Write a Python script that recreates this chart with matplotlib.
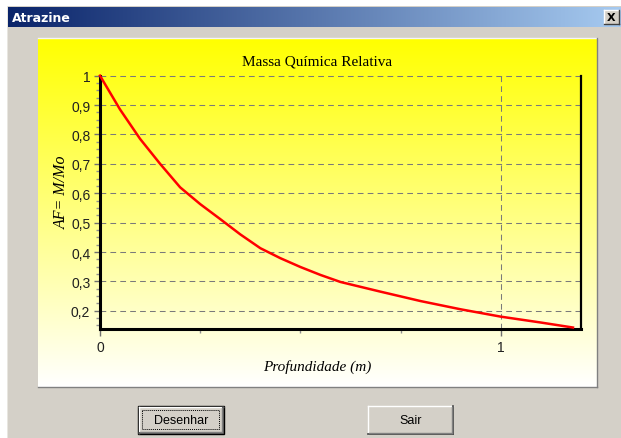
import numpy as np
import matplotlib
matplotlib.use("Agg")
import matplotlib.pyplot as plt
from matplotlib.patches import Rectangle

# ---- data ----
depth = [0, 0.05, 0.1, 0.15, 0.2, 0.25, 0.3, 0.35, 0.4, 0.45, 0.5, 0.55, 0.6, 0.7, 0.8, 0.9, 1.0, 1.1, 1.18]
af = [1.0, 0.885, 0.785, 0.700, 0.620, 0.563, 0.512, 0.460, 0.413, 0.379, 0.349, 0.322, 0.298, 0.265, 0.233, 0.205, 0.18, 0.16, 0.143]
y_ticks = [0.2, 0.3, 0.4, 0.5, 0.6, 0.7, 0.8, 0.9, 1.0]
y_tick_labels = ["0,2", "0,3", "0,4", "0,5", "0,6", "0,7", "0,8", "0,9", "1"]
x_ticks = [0, 1]
x_tick_labels = ["0", "1"]
window_title = "Atrazine"
chart_title = "Massa Química Relativa"
x_label = "Profundidade (m)"
y_label = "AF= M/Mo"
buttons = ["Desenhar", "Sair"]

W, H = 621, 439
fig = plt.figure(figsize=(W / 100, H / 100), dpi=100)
fig.patch.set_facecolor("#D4D0C8")

# background / chrome axes in pixel coords
bg = fig.add_axes([0, 0, 1, 1])
bg.set_xlim(0, W)
bg.set_ylim(H, 0)
bg.axis("off")

# white outer strip
bg.add_patch(Rectangle((0, 0), W, 7, facecolor="white", edgecolor="none"))
bg.add_patch(Rectangle((0, 0), 7, H, facecolor="white", edgecolor="none"))
bg.add_patch(Rectangle((7, 7), 1, H, facecolor="#E8E6E0", edgecolor="none"))

# title bar gradient
c1 = np.array([10, 36, 106]) / 255
c2 = np.array([166, 202, 240]) / 255
t = np.linspace(0, 1, 256)
grad = (c1[None, :] * (1 - t[:, None]) + c2[None, :] * t[:, None])[None, :, :]
bg.imshow(grad, extent=(8, W, 28, 8), aspect="auto", interpolation="bilinear", zorder=1)
bg.text(12, 18.5, window_title, color="white", fontsize=9, fontweight="bold",
        family="DejaVu Sans", va="center", ha="left", zorder=2)
# close button
bg.add_patch(Rectangle((604, 11), 15, 14, facecolor="#D4D0C8", edgecolor="none", zorder=2))
bg.plot([604, 619], [11, 11], color="white", lw=1, zorder=3)
bg.plot([604, 604], [11, 25], color="white", lw=1, zorder=3)
bg.plot([604, 619], [25, 25], color="#404040", lw=1, zorder=3)
bg.plot([619, 619], [11, 25], color="#404040", lw=1, zorder=3)
bg.text(611.5, 18, "X", fontsize=8, fontweight="bold", ha="center", va="center",
        family="DejaVu Sans", zorder=4)

# panel with yellow-to-white gradient
pl, pr, pt, pb = 38, 597, 39, 388
tv = np.linspace(0, 1, 256)
pg = np.stack([np.ones_like(tv), np.ones_like(tv), np.clip(tv * 1.0, 0, 1)], axis=1)[:, None, :]
bg.imshow(pg, extent=(pl, pr, pb, pt), aspect="auto", interpolation="bilinear", zorder=1)
bg.plot([pl, pr], [pt, pt], color="#F5F5F5", lw=1, zorder=2)
bg.plot([pr, pr], [pt, pb], color="#808080", lw=1, zorder=2)
bg.plot([pl, pr], [pb, pb], color="#808080", lw=1, zorder=2)

# chart title / axis labels (centered on panel)
cx = (pl + pr) / 2
bg.text(cx, 62, chart_title, fontsize=11, family="Liberation Serif",
        ha="center", va="center", zorder=3)
bg.text(cx, 367, x_label, fontsize=11, family="Liberation Serif", style="italic",
        ha="center", va="center", zorder=3)
bg.text(62, 192, y_label, fontsize=11.5, family="Liberation Serif", style="italic",
        ha="center", va="center", rotation=90, zorder=3)

# buttons
def button(x0, x1, y0, y1, label, default=False):
    bg.add_patch(Rectangle((x0, y0), x1 - x0, y1 - y0, facecolor="#D4D0C8",
                           edgecolor="none", zorder=2))
    if default:
        bg.add_patch(Rectangle((x0, y0), x1 - x0, y1 - y0, facecolor="none",
                               edgecolor="black", lw=1, zorder=3))
        x0, x1, y0, y1 = x0 + 1, x1 - 1, y0 + 1, y1 - 1
    bg.plot([x0, x1], [y0, y0], color="white", lw=1, zorder=3)
    bg.plot([x0, x0], [y0, y1], color="white", lw=1, zorder=3)
    bg.plot([x0, x1], [y1, y1], color="#404040", lw=1.2, zorder=3)
    bg.plot([x1, x1], [y0, y1], color="#404040", lw=1.2, zorder=3)
    bg.plot([x0 + 1, x1 - 1], [y1 - 1, y1 - 1], color="#808080", lw=1, zorder=3)
    bg.plot([x1 - 1, x1 - 1], [y0 + 1, y1 - 1], color="#808080", lw=1, zorder=3)
    if default:
        bg.add_patch(Rectangle((x0 + 3, y0 + 3), x1 - x0 - 7, y1 - y0 - 7, facecolor="none",
                               edgecolor="black", lw=0.7, linestyle=(0, (1, 1)), zorder=3))
    bg.text((x0 + x1) / 2, (y0 + y1) / 2, label, fontsize=9, family="Liberation Sans",
            ha="center", va="center", zorder=4)

button(138, 224, 407, 435, buttons[0], default=True)
button(368, 453, 407, 435, buttons[1])

# ---- plot axes ----
ax_l, ax_r, ax_t, ax_b = 100, 581, 76.7, 330
ax = fig.add_axes([ax_l / W, 1 - ax_b / H, (ax_r - ax_l) / W, (ax_b - ax_t) / H])
ax.patch.set_alpha(0)
ax.plot(depth, af, color="#FF0000", lw=1.8, zorder=5, clip_on=False)
ax.set_xlim(0, 1.2)
ax.set_ylim(0.138, 1.0)

ax.set_yticks(y_ticks)
ax.set_yticklabels(y_tick_labels)
ax.set_yticks(np.arange(0.15, 1.0, 0.025), minor=True)
ax.set_xticks(x_ticks)
ax.set_xticklabels(x_tick_labels)
ax.set_xticks([0.25, 0.5, 0.75], minor=True)
for lab in ax.get_xticklabels() + ax.get_yticklabels():
    lab.set_family("Liberation Sans")
    lab.set_fontsize(10)
    lab.set_color("#202020")
ax.tick_params(axis="both", which="major", direction="out", length=4, width=1,
               color="#707070", pad=3)
ax.tick_params(axis="both", which="minor", direction="out", length=3, width=1,
               color="#909090")
ax.tick_params(axis="x", which="major", length=5)

for yv in y_ticks:
    ax.axhline(yv, color="#7A7A7A", lw=0.75, linestyle=(0, (5.5, 4)), zorder=2,
               clip_on=False, snap=True)
ax.axvline(1.0, color="#7A7A7A", lw=0.75, linestyle=(0, (5.5, 4)), zorder=2, snap=True)

ax.spines["top"].set_visible(False)
ax.spines["left"].set_linewidth(2.2)
ax.spines["bottom"].set_linewidth(2.2)
ax.spines["right"].set_linewidth(1.6)
for s in ax.spines.values():
    s.set_color("black")

fig.savefig("out.png", dpi=100, facecolor=fig.get_facecolor())
